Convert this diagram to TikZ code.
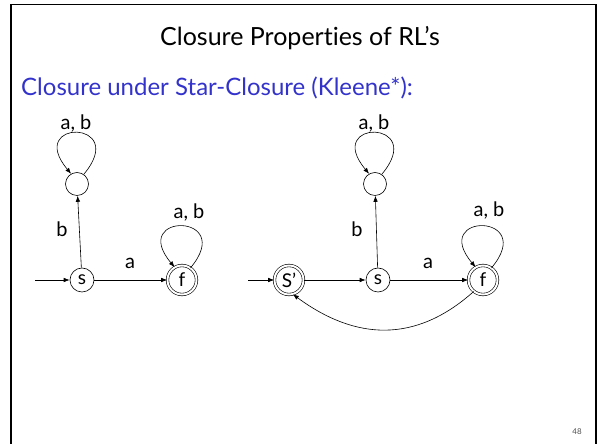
\documentclass[tikz,border=0pt]{standalone}
\usepackage{fontspec}
\setmainfont{Lato}[Ligatures={NoCommon}]
\usetikzlibrary{arrows.meta}
\definecolor{subblue}{RGB}{51,51,204}
\begin{document}
\begin{tikzpicture}[x=1pt,y=1pt,
  state/.style={circle,draw,line width=0.6pt,minimum size=24pt,inner sep=0pt,font=\fontsize{19}{19}\selectfont},
  smallstate/.style={state,minimum size=23pt},
  accept/.style={state,double,double distance=2pt,minimum size=29pt},
  arr/.style={line width=0.6pt,-{Latex[length=6pt,width=4.5pt]}},
  lbl/.style={font=\fontsize{20}{20}\selectfont,inner sep=0pt},
  frame/.style={line width=1.8pt,black}
]
\useasboundingbox (0,0) rectangle (600,444);
\draw[frame] (11,-2) -- (11,439.5) -- (596,439.5) -- (596,-2);
\node[font=\fontsize{25}{25}\selectfont] (title) at (300,406) {Closure Properties of RL’s};
\node[anchor=west,text=subblue,font=\fontsize{24}{24}\selectfont,inner sep=0pt] (sub) at (21,356) {Closure under Star-Closure (Kleene*):};
\node[font=\fontsize{8}{8}\selectfont\rmfamily,text=black!70] (pg) at (577,12) {48};

% left automaton
\coordinate (i1) at (35,164);
\node[state] (s1) at (82,164) {s};
\node[smallstate] (u1) at (77,260) {};
\node[accept] (f1) at (182,164) {f};
\draw[arr] (i1) -- (s1);
\draw[arr] (s1) -- (u1);
\draw[arr] (s1) -- (f1);
\draw[arr] (u1.55) .. controls +(50:72) and +(130:72) .. (u1.120);
\draw[arr] (f1.55) .. controls +(50:72) and +(130:72) .. (f1.120);
\node[lbl] (l1) at (76,321) {a, b};
\node[lbl] (l2) at (189,232) {a, b};
\node[lbl] (l3) at (62,215) {b};
\node[lbl] (l4) at (130,181) {a};

% right automaton
\coordinate (i2) at (248,164);
\node[accept] (sp) at (289,164) {S’};
\node[state] (s2) at (378,164) {s};
\node[smallstate] (u2) at (375,260) {};
\node[accept] (f2) at (483,164) {f};
\draw[arr] (i2) -- (sp);
\draw[arr] (sp) -- (s2);
\draw[arr] (s2) -- (u2);
\draw[arr] (s2) -- (f2);
\draw[arr] (u2.55) .. controls +(50:72) and +(130:72) .. (u2.120);
\draw[arr] (f2.55) .. controls +(50:72) and +(130:72) .. (f2.120);
\draw[arr] (f2.231) .. controls (415,100) and (355,104) .. (sp.285);
\node[lbl] (l5) at (374,321) {a, b};
\node[lbl] (l6) at (489,234) {a, b};
\node[lbl] (l7) at (357,215) {b};
\node[lbl] (l8) at (428,181) {a};
\end{tikzpicture}
\end{document}
